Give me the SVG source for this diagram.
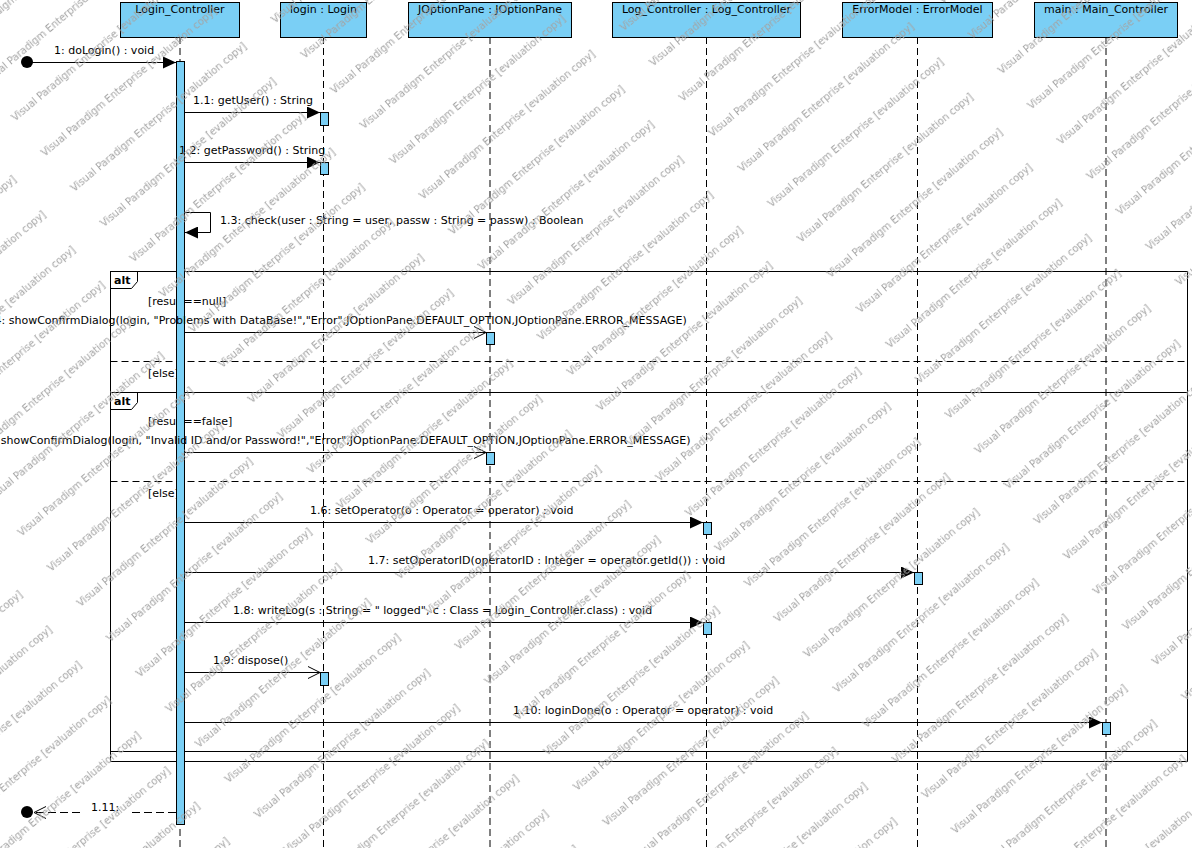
<svg xmlns="http://www.w3.org/2000/svg" width="1192" height="848" viewBox="0 0 1192 848">
  <style>
    .hdr { fill: #7acff5; stroke: #000; stroke-width: 1; }
    .hdr-t { font-family: "DejaVu Sans", "Liberation Sans", sans-serif; font-size: 11px; text-anchor: middle; fill: #000; }
    .life { stroke: #000; stroke-width: 1; stroke-dasharray: 7,4; fill: none; }
    .act { fill: #7acff5; stroke: #000; stroke-width: 1; }
    .msg { stroke: #000; stroke-width: 1; fill: none; }
    .ret { stroke: #000; stroke-width: 1; fill: none; stroke-dasharray: 8,4; }
    .lbl { font-family: "DejaVu Sans", "Liberation Sans", sans-serif; font-size: 11px; fill: #000; }
    .frame { fill: none; stroke: #000; stroke-width: 1; }
    .sep { stroke: #000; stroke-width: 1; stroke-dasharray: 7,4; }
    .op { font-family: "DejaVu Sans", "Liberation Sans", sans-serif; font-size: 11px; font-weight: bold; fill: #000; }
    .wm { font-family: "DejaVu Sans", "Liberation Sans", sans-serif; font-size: 10px; fill: #a3a3a3; }
  </style>
  <defs>
    <marker id="solid" markerUnits="userSpaceOnUse" markerWidth="14" markerHeight="12" refX="13" refY="6" orient="auto">
      <path d="M0,0 L13,6 L0,12 z" fill="#000"/>
    </marker>
    <marker id="open" markerUnits="userSpaceOnUse" markerWidth="14" markerHeight="14" refX="12.5" refY="6.5" orient="auto">
      <path d="M0.5,0.5 L12.5,6.5 L0.5,12.5" fill="none" stroke="#000" stroke-width="1"/>
    </marker>
    <pattern id="watermark" patternUnits="userSpaceOnUse" width="262" height="46" patternTransform="translate(788,635) rotate(-40)">
      <text class="wm" x="0" y="30">Visual Paradigm Enterprise [evaluation copy]</text>
    </pattern>
  </defs>

  <rect width="1192" height="848" fill="#fff"/>

  <!-- lifelines -->
  <g id="lifelines">
    <line class="life" x1="180" y1="37" x2="180" y2="848"/>
    <line class="life" x1="323.5" y1="37" x2="323.5" y2="848"/>
    <line class="life" x1="490" y1="37" x2="490" y2="848"/>
    <line class="life" x1="706.5" y1="37" x2="706.5" y2="848"/>
    <line class="life" x1="917.5" y1="37" x2="917.5" y2="848"/>
    <line class="life" x1="1106" y1="37" x2="1106" y2="848"/>
  </g>

  <!-- combined fragments -->
  <g id="alt-outer">
    <rect class="frame" x="110.5" y="271.5" width="1077" height="490"/>
    <path class="frame" d="M110.5,271.5 H137.5 V281.5 L131.5,288.5 H110.5"/>
    <text class="op" x="114" y="284">alt</text>
    <text class="lbl" x="148" y="305">[result==null]</text>
    <line class="sep" x1="110.5" y1="361.5" x2="1187.5" y2="361.5"/>
    <text class="lbl" x="148" y="377">[else]</text>
  </g>
  <g id="alt-inner">
    <rect class="frame" x="110.5" y="392.5" width="1077" height="359"/>
    <path class="frame" d="M110.5,392.5 H137.5 V402.5 L131.5,409.5 H110.5"/>
    <text class="op" x="114" y="405">alt</text>
    <text class="lbl" x="148" y="425">[result==false]</text>
    <line class="sep" x1="110.5" y1="481.5" x2="1187.5" y2="481.5"/>
    <text class="lbl" x="148" y="497">[else]</text>
  </g>

  <!-- participants -->
  <g id="login-controller">
    <rect class="hdr" x="120.5" y="2.5" width="119" height="35"/>
    <text class="hdr-t" x="180" y="13">Login_Controller</text>
    <rect class="act" x="176.5" y="61.5" width="8" height="763"/>
  </g>
  <g id="login">
    <rect class="hdr" x="280.5" y="2.5" width="86" height="35"/>
    <text class="hdr-t" x="323.5" y="13">login : Login</text>
    <rect class="act" x="320.5" y="112.5" width="8" height="13"/>
    <rect class="act" x="320.5" y="162.5" width="8" height="12"/>
    <rect class="act" x="320.5" y="672.5" width="8" height="13"/>
  </g>
  <g id="joptionpane">
    <rect class="hdr" x="408.5" y="2.5" width="163" height="35"/>
    <text class="hdr-t" x="490" y="13">JOptionPane : JOptionPane</text>
    <rect class="act" x="486.5" y="332.5" width="8" height="12"/>
    <rect class="act" x="486.5" y="452.5" width="8" height="12"/>
  </g>
  <g id="log-controller">
    <rect class="hdr" x="612.5" y="2.5" width="188" height="35"/>
    <text class="hdr-t" x="706.5" y="13">Log_Controller : Log_Controller</text>
    <rect class="act" x="703.5" y="522.5" width="8" height="12"/>
    <rect class="act" x="703.5" y="622.5" width="8" height="12"/>
  </g>
  <g id="error-model">
    <rect class="hdr" x="842.5" y="2.5" width="150" height="35"/>
    <text class="hdr-t" x="917.5" y="13">ErrorModel : ErrorModel</text>
    <rect class="act" x="914.5" y="572.5" width="8" height="12"/>
  </g>
  <g id="main-controller">
    <rect class="hdr" x="1034.5" y="2.5" width="143" height="35"/>
    <text class="hdr-t" x="1106" y="13">main : Main_Controller</text>
    <rect class="act" x="1102.5" y="722.5" width="8" height="12"/>
  </g>

  <!-- messages -->
  <g id="messages">
    <circle cx="27" cy="62" r="6" fill="#000"/>
    <line class="msg" x1="27" y1="62.5" x2="176" y2="62.5" marker-end="url(#solid)"/>
    <text class="lbl" x="54" y="54">1: doLogin() : void</text>

    <line class="msg" x1="184" y1="112.5" x2="320" y2="112.5" marker-end="url(#solid)"/>
    <text class="lbl" x="193" y="104">1.1: getUser() : String</text>

    <line class="msg" x1="184" y1="162.5" x2="320" y2="162.5" marker-end="url(#solid)"/>
    <text class="lbl" x="179" y="154">1.2: getPassword() : String</text>

    <polyline class="msg" points="184,212.5 210.5,212.5 210.5,232.5 185,232.5" marker-end="url(#solid)"/>
    <text class="lbl" x="220" y="224">1.3: check(user : String = user, passw : String = passw) : Boolean</text>

    <line class="msg" x1="184" y1="332.5" x2="486" y2="332.5" marker-end="url(#open)"/>
    <text class="lbl" x="-16" y="324">1.4: showConfirmDialog(login, "Problems with DataBase!","Error",JOptionPane.DEFAULT_OPTION,JOptionPane.ERROR_MESSAGE)</text>

    <line class="msg" x1="184" y1="452.5" x2="486" y2="452.5" marker-end="url(#open)"/>
    <text class="lbl" x="-24" y="444">1.5: showConfirmDialog(login, "Invalid ID and/or Password!","Error",JOptionPane.DEFAULT_OPTION,JOptionPane.ERROR_MESSAGE)</text>

    <line class="msg" x1="184" y1="522.5" x2="703" y2="522.5" marker-end="url(#solid)"/>
    <text class="lbl" x="310" y="514">1.6: setOperator(o : Operator = operator) : void</text>

    <line class="msg" x1="184" y1="572.5" x2="914" y2="572.5" marker-end="url(#solid)"/>
    <text class="lbl" x="368" y="564">1.7: setOperatorID(operatorID : Integer = operator.getId()) : void</text>

    <line class="msg" x1="184" y1="622.5" x2="703" y2="622.5" marker-end="url(#solid)"/>
    <text class="lbl" x="233" y="614">1.8: writeLog(s : String = " logged", c : Class = Login_Controller.class) : void</text>

    <line class="msg" x1="184" y1="672.5" x2="320" y2="672.5" marker-end="url(#open)"/>
    <text class="lbl" x="213" y="664">1.9: dispose()</text>

    <line class="msg" x1="184" y1="722.5" x2="1102" y2="722.5" marker-end="url(#solid)"/>
    <text class="lbl" x="513" y="714">1.10: loginDone(o : Operator = operator) : void</text>

    <circle cx="27" cy="812" r="6" fill="#000"/>
    <line class="ret" x1="176" y1="812.5" x2="34" y2="812.5" marker-end="url(#open)"/>
    <rect x="80" y="802" width="50" height="14" fill="#fff"/>
    <text class="lbl" x="91" y="811">1.11:</text>
  </g>

  <!-- evaluation watermark -->
  <rect id="watermark-layer" width="1192" height="848" fill="url(#watermark)"/>
</svg>
